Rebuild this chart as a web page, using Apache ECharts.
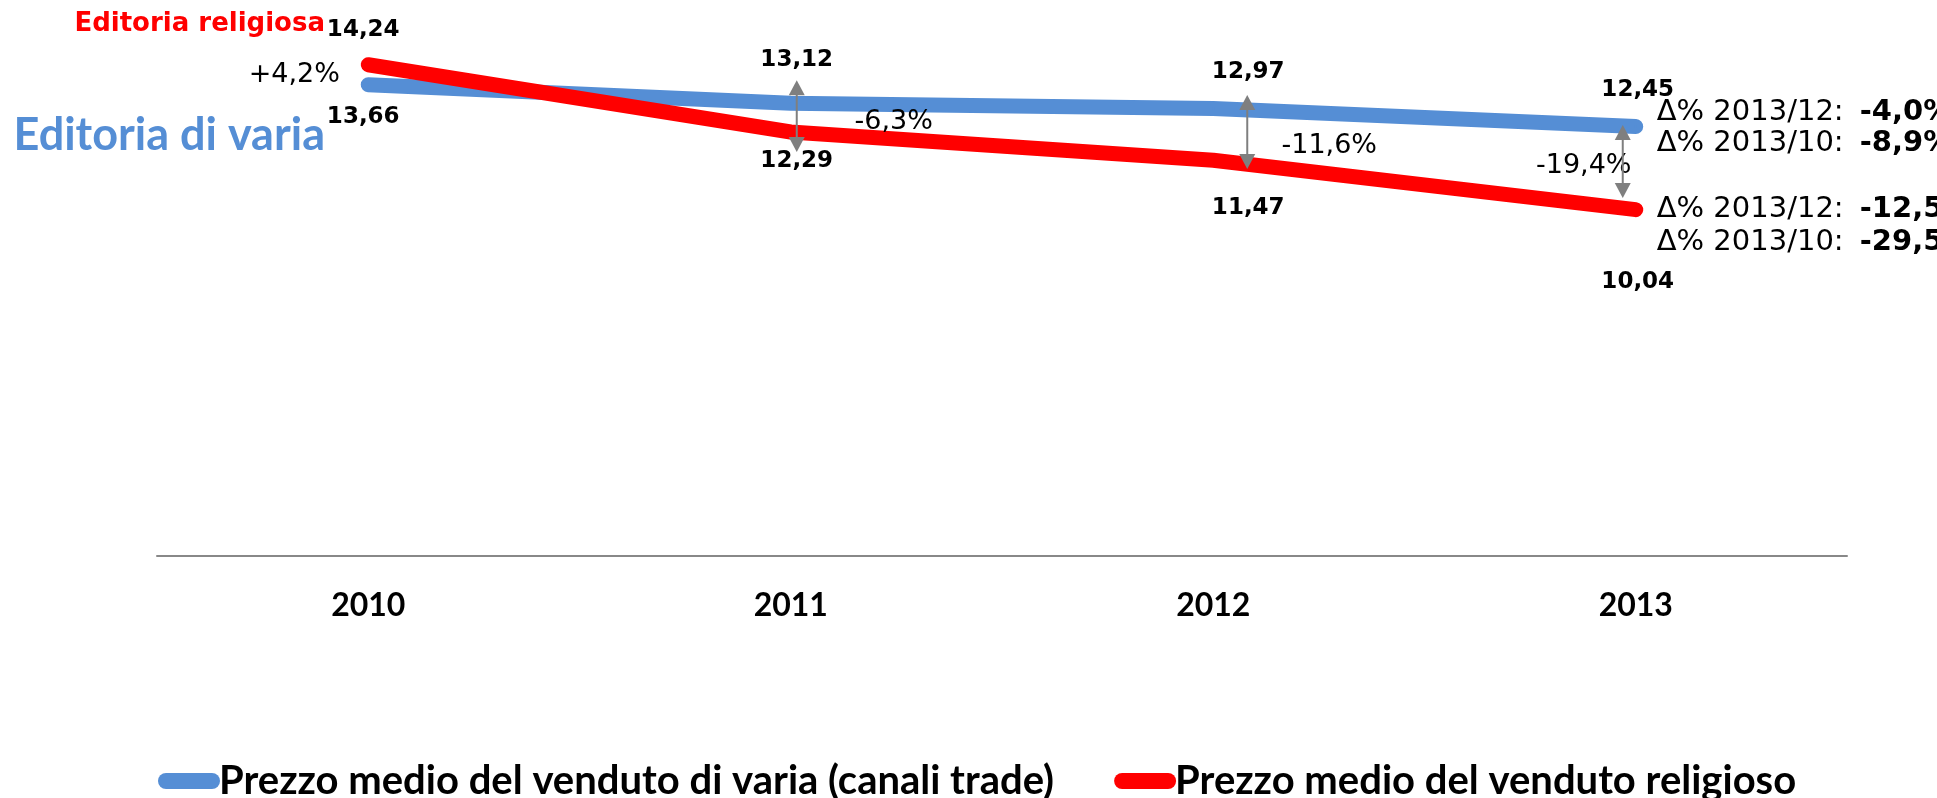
<!DOCTYPE html>
<html><head><meta charset="utf-8">
<script src="https://cdn.jsdelivr.net/npm/echarts@6/dist/echarts.min.js"></script>
<style>html,body{margin:0;padding:0;background:#fff;overflow:hidden}#c{width:1937px;height:798px}</style>
</head><body><div id="c"></div>
<script>
// ---- data ----
const years = ['2010', '2011', '2012', '2013'];
const variaValues = [13.66, 13.12, 12.97, 12.45];
const religValues = [14.24, 12.29, 11.47, 10.04];
const variaName = 'Prezzo medio del venduto di varia (canali trade)';
const religName = 'Prezzo medio del venduto religioso';
const variaTag = 'Editoria di varia';
const religTag = 'Editoria religiosa';
const deltaPrefix12 = 'Δ% 2013/12: ';
const deltaPrefix10 = 'Δ% 2013/10: ';

// ---- layout (pixel offsets, styles) ----
const BLUE = '#558ED5', RED = '#FF0000', GRAY = '#7F7F7F';
const variaLabelOffsets = [[-5, 32], [6, -43], [35, -37], [2, -36]];
const religLabelOffsets = [[-5, -35], [6, 29], [35, 48], [2, 72]];
const gapTextOffsets = [[-74, -10], [103, 19], [116, 37], [-52, 40]];
const arrowLayout = [null, {dx: 6, top: -23, bottom: 20}, {dx: 34, top: -13.5, bottom: 8.7}, {dx: -13, top: -1.5, bottom: -11.6}];
const NUM_FONT = 23, TXT_FONT = 27, DELTA_FONT = 29, PREFIX_WIDTH = 203;

const fmt = v => v.toFixed(2).replace('.', ',');
const pct = r => ((r > 0 ? '+' : '') + (r * 100).toFixed(1)).replace('.', ',') + '%';

const numLabelStyle = {fontFamily: 'DejaVu Sans', fontWeight: 'bold', fontSize: NUM_FONT, color: '#000'};
function labelData(vals, offs) {
  return vals.map((v, i) => ({value: v, label: Object.assign({offset: offs[i]}, numLabelStyle)}));
}
const numLabel = Object.assign({show: true, position: 'inside', formatter: p => fmt(p.value)}, numLabelStyle);

const chart = echarts.init(document.getElementById('c'), null, {renderer: 'canvas'});
chart.setOption({
  animation: false,
  backgroundColor: '#fff',
  grid: {left: 157, right: 90, top: 4, bottom: 242},
  xAxis: {
    type: 'category', data: years, boundaryGap: true,
    axisLine: {lineStyle: {color: '#888', width: 2}},
    axisTick: {show: false},
    axisLabel: {fontFamily: 'Lato', fontWeight: 'bold', fontSize: 32, color: '#000', margin: 34, lineHeight: 32}
  },
  yAxis: {type: 'value', min: 0, max: 16, show: false, splitLine: {show: false}},
  legend: {
    left: 153, top: 756, itemWidth: 62, itemHeight: 16, itemGap: 60,
    icon: 'path://M8,0L54,0A8,8,0,0,1,54,16L8,16A8,8,0,0,1,8,0Z',
    textStyle: {fontFamily: 'Lato', fontWeight: 'bold', fontSize: 40, color: '#000', lineHeight: 40, padding: [0, 0, 0, -6]},
    data: [variaName, religName]
  },
  series: [
    {
      name: variaName, type: 'line', data: labelData(variaValues, variaLabelOffsets),
      symbol: 'circle', symbolSize: 2, itemStyle: {color: BLUE},
      lineStyle: {width: 15, color: BLUE, cap: 'round', join: 'round'},
      label: numLabel, emphasis: {disabled: true}, z: 2
    },
    {
      name: religName, type: 'line', data: labelData(religValues, religLabelOffsets),
      symbol: 'circle', symbolSize: 2, itemStyle: {color: RED},
      lineStyle: {width: 15, color: RED, cap: 'round', join: 'round'},
      label: numLabel, emphasis: {disabled: true}, z: 3
    }
  ]
});

// ---- annotations anchored on the library's scales ----
const px = (i, v) => chart.convertToPixel({xAxisIndex: 0, yAxisIndex: 0}, [i, v]);
const g = [];
const regular = {fontFamily: 'DejaVu Sans', fontSize: TXT_FONT, fill: '#000'};

// gap percentages
years.forEach((y, i) => {
  const p = px(i, variaValues[i]);
  g.push({type: 'text', z: 100, x: p[0] + gapTextOffsets[i][0], y: p[1] + gapTextOffsets[i][1],
    style: Object.assign({text: pct(religValues[i] / variaValues[i] - 1), align: 'center', verticalAlign: 'middle'}, regular)});
});

// arrows
arrowLayout.forEach((a, i) => {
  if (!a) return;
  const pb = px(i, variaValues[i]), pr = px(i, religValues[i]);
  const x = pb[0] + a.dx, y1 = pb[1] + a.top, y2 = pr[1] + a.bottom;
  const hl = 15, hw = 8;
  g.push({type: 'line', z: 100, shape: {x1: x, y1: y1 + hl - 2, x2: x, y2: y2 - hl + 2}, style: {stroke: GRAY, lineWidth: 2}});
  g.push({type: 'polygon', z: 100, shape: {points: [[x, y1], [x - hw, y1 + hl], [x + hw, y1 + hl]]}, style: {fill: GRAY}});
  g.push({type: 'polygon', z: 100, shape: {points: [[x, y2], [x - hw, y2 - hl], [x + hw, y2 - hl]]}, style: {fill: GRAY}});
});

// right-side deltas
const last = years.length - 1;
const richStyle = {
  n: {fontFamily: 'DejaVu Sans', fontSize: DELTA_FONT, color: '#000', width: PREFIX_WIDTH},
  b: {fontFamily: 'DejaVu Sans', fontSize: DELTA_FONT, fontWeight: 'bold', color: '#000'}
};
function deltaText(x, y, prefix, r) {
  return {type: 'text', z: 100, x: x, y: y,
    style: {text: '{n|' + prefix + '}{b|' + pct(r) + '}', rich: richStyle, align: 'left', verticalAlign: 'middle'}};
}
const pbL = px(last, variaValues[last]), prL = px(last, religValues[last]);
g.push(deltaText(pbL[0] + 21, pbL[1] - 14.5, deltaPrefix12, variaValues[last] / variaValues[last - 1] - 1));
g.push(deltaText(pbL[0] + 21, pbL[1] + 16.5, deltaPrefix10, variaValues[last] / variaValues[0] - 1));
g.push(deltaText(prL[0] + 21, prL[1] + 0, deltaPrefix12, religValues[last] / religValues[last - 1] - 1));
g.push(deltaText(prL[0] + 21, prL[1] + 33, deltaPrefix10, religValues[last] / religValues[0] - 1));

// series tags
g.push({type: 'text', z: 100, x: 325, y: 24,
  style: {text: religTag, align: 'right', verticalAlign: 'middle', fontFamily: 'DejaVu Sans', fontWeight: 'bold', fontSize: 26, fill: RED}});
g.push({type: 'text', z: 100, x: 325, y: 135,
  style: {text: variaTag, align: 'right', verticalAlign: 'middle', fontFamily: 'Lato', fontWeight: 'bold', fontSize: 45, fill: BLUE}});

chart.setOption({graphic: g});
</script>
</body></html>
